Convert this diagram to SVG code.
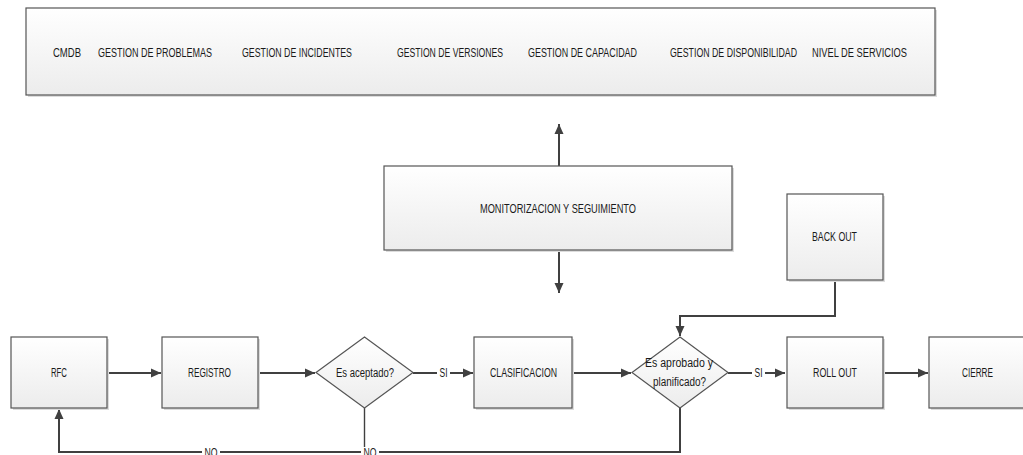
<svg xmlns="http://www.w3.org/2000/svg" width="1023" height="455" viewBox="0 0 1023 455">
  <defs>
    <linearGradient id="boxFill" x1="0" y1="0" x2="0" y2="1">
      <stop offset="0" stop-color="#ffffff"/>
      <stop offset="1" stop-color="#ececec"/>
    </linearGradient>
    <marker id="arrow" viewBox="0 0 10 10" refX="10" refY="5" markerWidth="10" markerHeight="10" markerUnits="userSpaceOnUse" orient="auto">
      <path d="M0,0.5 L10,5 L0,9.5 Z" fill="#404040"/>
    </marker>
  </defs>
  <style>
    .box { fill: url(#boxFill); stroke: #555555; stroke-width: 1.2; }
    .shadow { fill: #dcdcdc; }
    .lbl { font-family: "Liberation Sans Narrow", "Liberation Sans", Arial, sans-serif; font-size: 12.5px; fill: #1a1a1a; dominant-baseline: central; }
    .conn { fill: none; stroke: #404040; stroke-width: 2; }
    .thin { fill: none; stroke: #404040; stroke-width: 1.4; }
    .tag { font-family: "Liberation Sans Narrow", "Liberation Sans", Arial, sans-serif; font-size: 12.5px; fill: #1a1a1a; dominant-baseline: central; text-anchor: middle; }
  </style>

  <rect width="1023" height="455" fill="#ffffff"/>

  <!-- connectors -->
  <g id="connectors">
    <line class="conn" x1="559" y1="166" x2="559" y2="124" marker-end="url(#arrow)"/>
    <line class="conn" x1="559" y1="251" x2="559" y2="293" marker-end="url(#arrow)"/>
    <line class="conn" x1="108" y1="373" x2="161" y2="373" marker-end="url(#arrow)"/>
    <line class="conn" x1="259" y1="373" x2="315" y2="373" marker-end="url(#arrow)"/>
    <line class="conn" x1="413" y1="373" x2="473" y2="373" marker-end="url(#arrow)"/>
    <line class="conn" x1="573" y1="373" x2="631" y2="373" marker-end="url(#arrow)"/>
    <line class="conn" x1="728" y1="373" x2="785" y2="373" marker-end="url(#arrow)"/>
    <line class="conn" x1="884" y1="373" x2="928" y2="373" marker-end="url(#arrow)"/>
    <polyline class="conn" points="835,281 835,316 680,316 680,336" marker-end="url(#arrow)"/>
    <polyline class="conn" points="680,408 680,452 59,452 59,409" marker-end="url(#arrow)"/>
    <line class="thin" x1="364.5" y1="408" x2="364.5" y2="452"/>
    <!-- connector labels on a white ground -->
    <rect x="437" y="366" width="13" height="14" fill="#ffffff"/>
    <text class="tag" x="443.5" y="373" textLength="8" lengthAdjust="spacingAndGlyphs">SI</text>
    <rect x="752" y="366" width="13" height="14" fill="#ffffff"/>
    <text class="tag" x="758.5" y="373" textLength="8" lengthAdjust="spacingAndGlyphs">SI</text>
    <rect x="202" y="447" width="18" height="10" fill="#ffffff"/>
    <text class="tag" x="211" y="452.5" textLength="13" lengthAdjust="spacingAndGlyphs">NO</text>
    <rect x="361" y="447" width="18" height="10" fill="#ffffff"/>
    <text class="tag" x="370" y="452.5" textLength="13" lengthAdjust="spacingAndGlyphs">NO</text>
  </g>

  <!-- process areas -->
  <g id="procesos">
    <rect class="shadow" x="28" y="10" width="909" height="87"/>
    <rect class="box" x="26" y="8" width="909" height="87"/>
    <text class="lbl" x="53" y="53" textLength="28" lengthAdjust="spacingAndGlyphs">CMDB</text>
    <text class="lbl" x="98" y="53" textLength="114" lengthAdjust="spacingAndGlyphs">GESTION DE PROBLEMAS</text>
    <text class="lbl" x="242" y="53" textLength="110" lengthAdjust="spacingAndGlyphs">GESTION DE INCIDENTES</text>
    <text class="lbl" x="397" y="53" textLength="106" lengthAdjust="spacingAndGlyphs">GESTION DE VERSIONES</text>
    <text class="lbl" x="528" y="53" textLength="109" lengthAdjust="spacingAndGlyphs">GESTION DE CAPACIDAD</text>
    <text class="lbl" x="670" y="53" textLength="127" lengthAdjust="spacingAndGlyphs">GESTION DE DISPONIBILIDAD</text>
    <text class="lbl" x="812" y="53" textLength="95" lengthAdjust="spacingAndGlyphs">NIVEL DE SERVICIOS</text>
  </g>

  <g id="monitorizacion">
    <rect class="shadow" x="386" y="168" width="348" height="84"/>
    <rect class="box" x="384" y="166" width="348" height="84"/>
    <text class="lbl" x="480" y="209" textLength="156" lengthAdjust="spacingAndGlyphs">MONITORIZACION Y SEGUIMIENTO</text>
  </g>

  <g id="backout">
    <rect class="shadow" x="789" y="196" width="96" height="86"/>
    <rect class="box" x="787" y="194" width="96" height="86"/>
    <text class="lbl" x="812" y="237" textLength="45" lengthAdjust="spacingAndGlyphs">BACK OUT</text>
  </g>

  <g id="rfc">
    <rect class="shadow" x="13" y="339" width="96" height="71"/>
    <rect class="box" x="11" y="337" width="96" height="71"/>
    <text class="lbl" x="51" y="373" textLength="16" lengthAdjust="spacingAndGlyphs">RFC</text>
  </g>

  <g id="registro">
    <rect class="shadow" x="164" y="339" width="96" height="71"/>
    <rect class="box" x="162" y="337" width="96" height="71"/>
    <text class="lbl" x="188" y="373" textLength="43" lengthAdjust="spacingAndGlyphs">REGISTRO</text>
  </g>

  <g id="aceptado">
    <polygon class="box" points="364.5,337 413,372.5 364.5,408 316,372.5"/>
    <text class="lbl" x="336" y="373" textLength="58" lengthAdjust="spacingAndGlyphs">Es aceptado?</text>
  </g>

  <g id="clasificacion">
    <rect class="shadow" x="476" y="339" width="98" height="71"/>
    <rect class="box" x="474" y="337" width="98" height="71"/>
    <text class="lbl" x="490" y="373" textLength="67" lengthAdjust="spacingAndGlyphs">CLASIFICACION</text>
  </g>

  <g id="aprobado">
    <polygon class="box" points="680,337 728,372.5 680,408 632,372.5"/>
    <text class="lbl" x="645" y="363" textLength="68" lengthAdjust="spacingAndGlyphs">Es aprobado y</text>
    <text class="lbl" x="653" y="382" textLength="53" lengthAdjust="spacingAndGlyphs">planificado?</text>
  </g>

  <g id="rollout">
    <rect class="shadow" x="789" y="339" width="96" height="71"/>
    <rect class="box" x="787" y="337" width="96" height="71"/>
    <text class="lbl" x="813" y="373" textLength="44" lengthAdjust="spacingAndGlyphs">ROLL OUT</text>
  </g>

  <g id="cierre">
    <rect class="shadow" x="931" y="339" width="97" height="71"/>
    <rect class="box" x="929" y="337" width="97" height="71"/>
    <text class="lbl" x="962" y="373" textLength="31" lengthAdjust="spacingAndGlyphs">CIERRE</text>
  </g>
</svg>
